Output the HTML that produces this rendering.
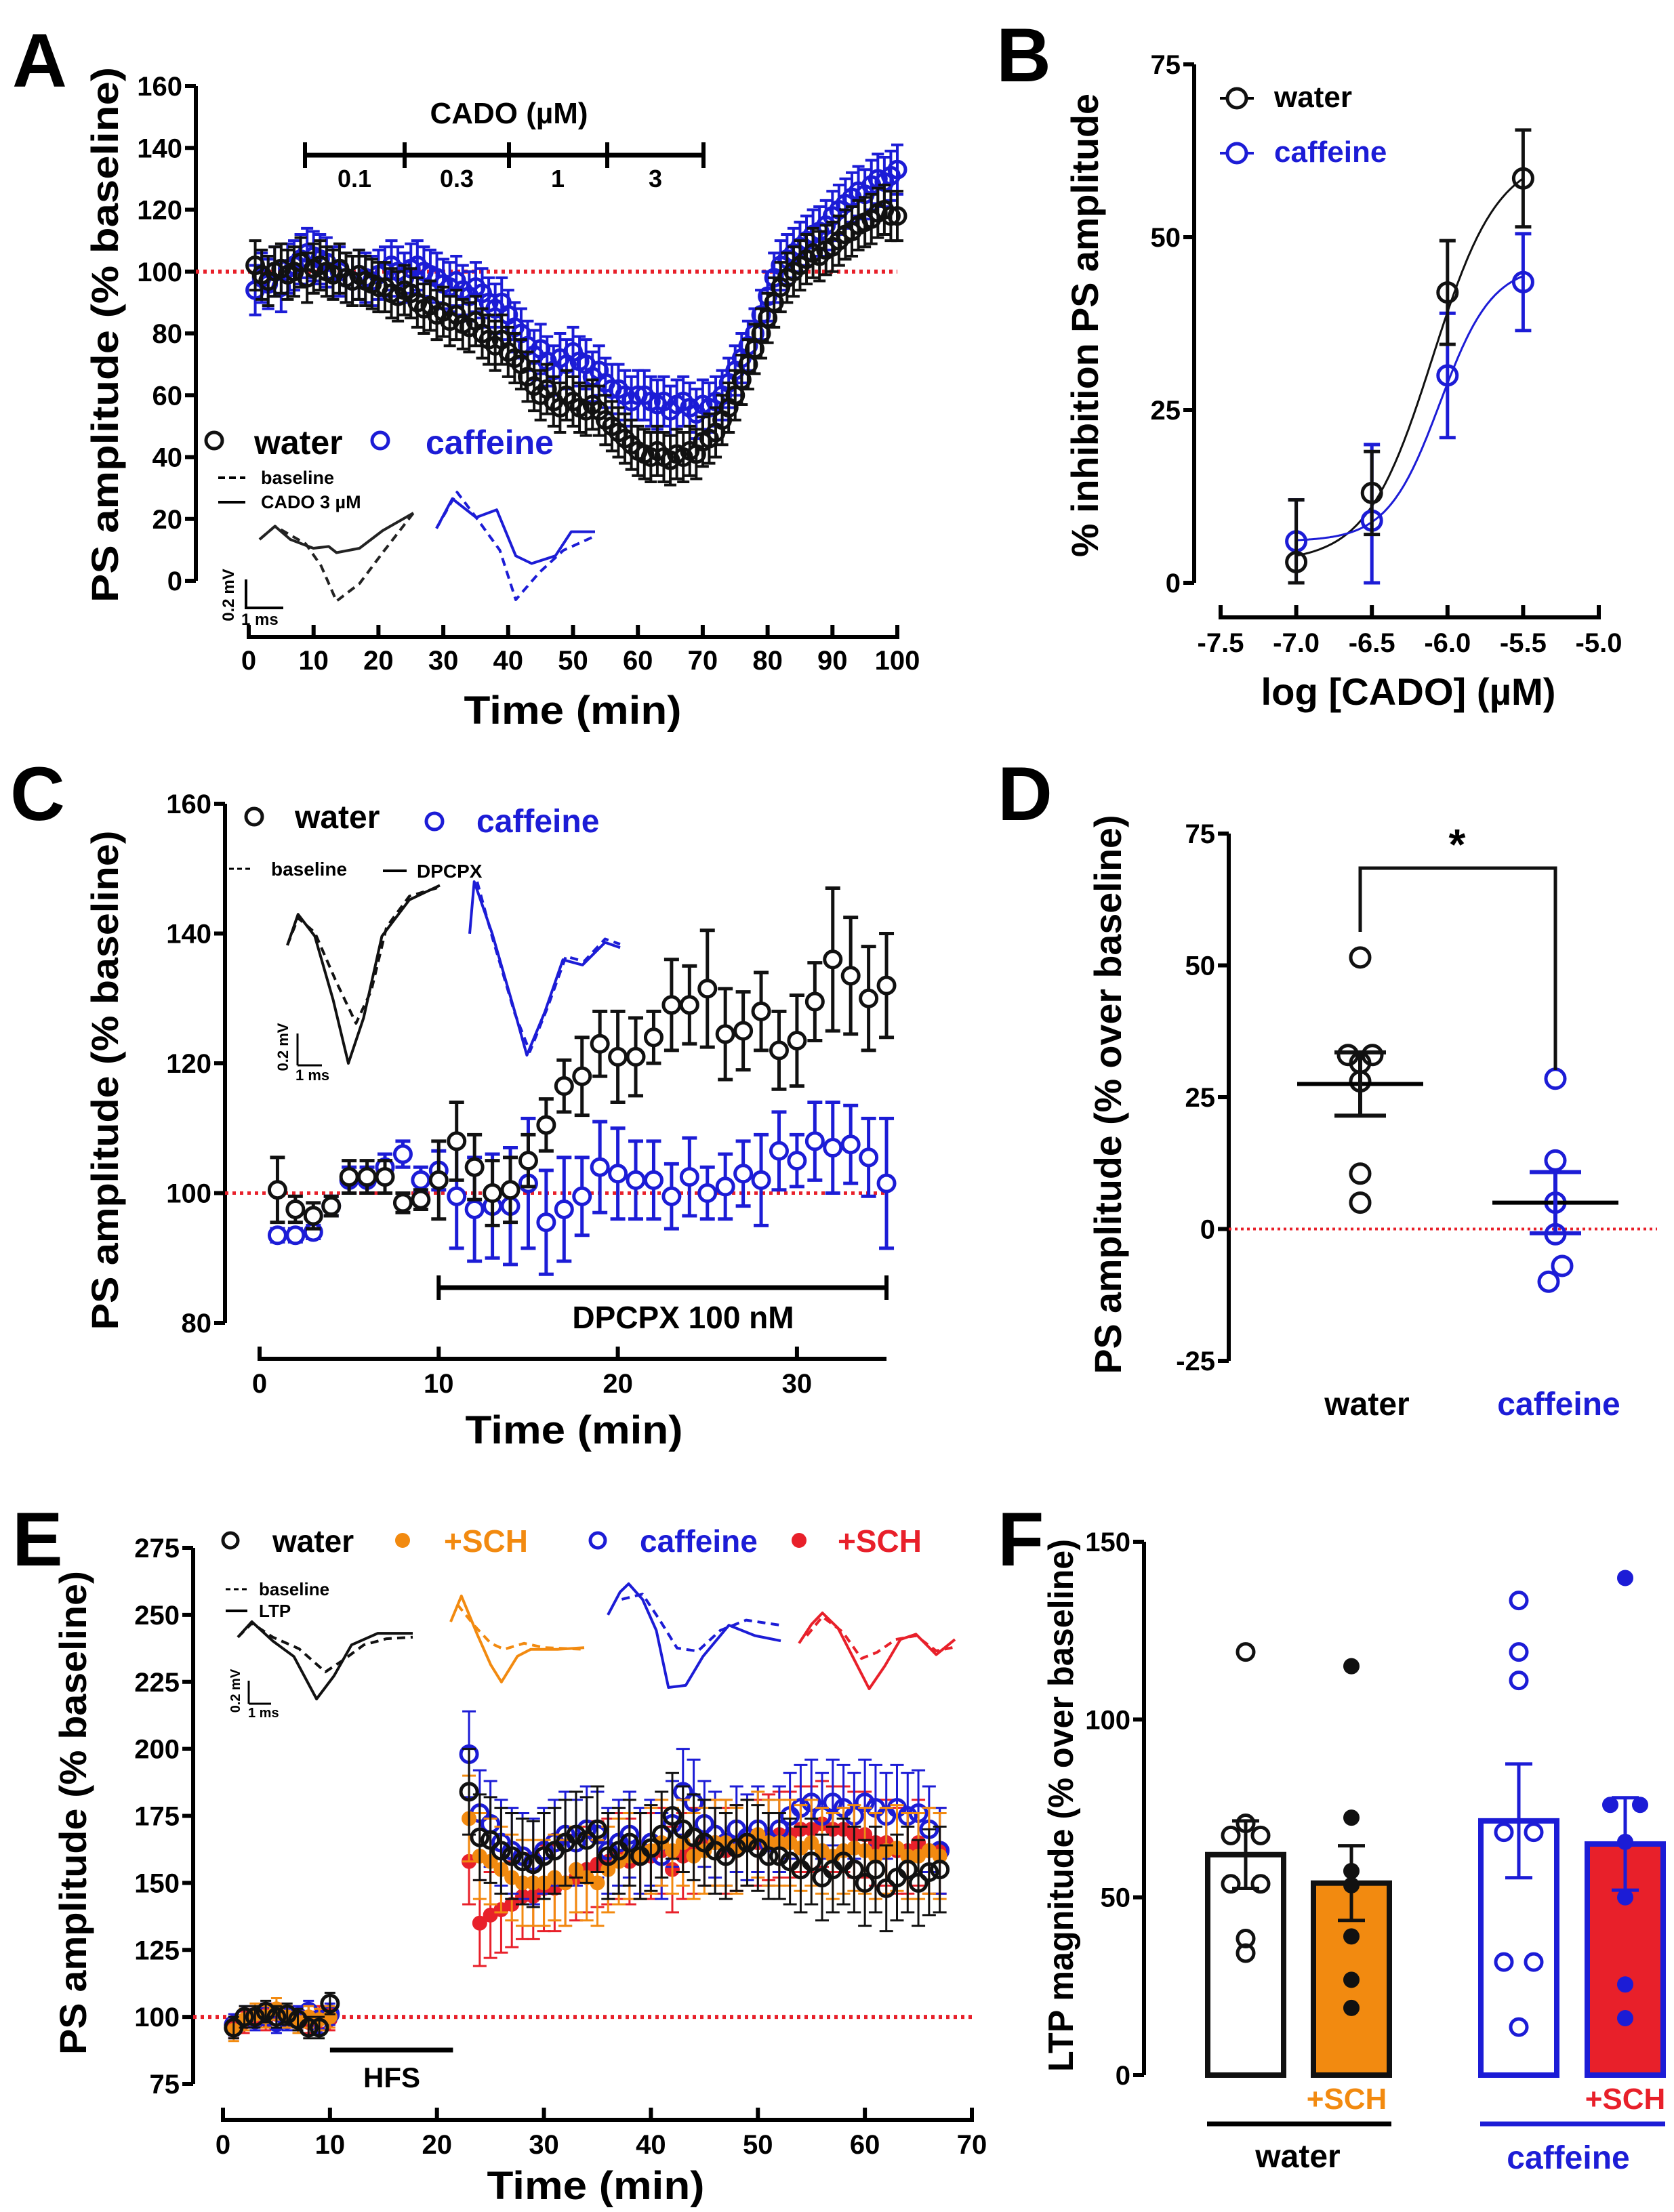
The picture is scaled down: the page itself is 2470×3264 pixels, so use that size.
<!DOCTYPE html>
<html><head><meta charset="utf-8"><style>
html,body{margin:0;padding:0;background:#fff;}
svg{display:block;font-family:"Liberation Sans",Arial,sans-serif;font-weight:bold;}
</style></head><body>
<svg id="fig" width="2470" height="3264" viewBox="0 0 2470 3264" xmlns="http://www.w3.org/2000/svg"></svg>
<script>
// ===== Panel A data =====
const aTimes = Array.from({length:100},(_, i)=>i+1);
const aWater = [102,99,97,100,101,99,100,103,98,101, 102,100,99,101,98,97,99,97,96,95, 95,93,92,94,93,90,88,89,86,87, 84,86,83,82,84,80,78,76,78,74, 72,70,66,63,60,62,58,56,60,58, 56,55,57,55,52,50,48,46,44,42, 41,40,42,40,39,41,40,42,41,45, 46,48,52,56,60,65,70,75,80,85, 90,95,98,100,102,104,106,105,107,108, 110,112,113,115,116,117,119,120,118,118];
const aCaff = [94,98,96,100,95,101,102,104,106,105, 104,103,100,100,98,97,99,98,97,99, 100,102,100,98,101,102,100,99,98,96, 95,97,94,92,95,93,90,88,90,86, 82,80,76,73,75,71,68,72,70,74, 71,70,66,68,64,62,62,60,58,60, 60,58,57,58,55,57,58,56,54,57, 56,58,60,64,68,72,76,80,86,92, 98,102,104,106,108,110,112,113,115,118, 120,122,124,126,125,128,130,129,131,133];
const aErr = 8;
const aYTicks = [0,20,40,60,80,100,120,140,160];
const aXTicks = [0,10,20,30,40,50,60,70,80,90,100];
// ===== Panel B data =====
const bLogConc = [-7.0,-6.5,-6.0,-5.5];
const bWater = [3,13,42,58.5];
const bWaterErr = [9,6,7.5,7];
const bCaff = [6,9,30,43.5];
const bCaffErr = [6,11,9,7];
const bYTicks = [0,25,50,75];
const bXTicks = [-7.5,-7.0,-6.5,-6.0,-5.5,-5.0];
// ===== Panel C data =====
const cTimes = Array.from({length:35},(_, i)=>i+1);
const cWater = [100.5,97.5,96.5,98,102.5,102.5,102.5,98.5,99,102, 108,104,100,100.5,105,110.5,116.5,118,123,121, 121,124,129,129,131.5,124.5,125,128,122,123.5, 129.5,136,133.5,130,132];
const cWaterErr = [5,2,2,1.5,2.5,2.5,2.5,1.5,1.5,6, 6,5,5,5,4,4,4,6,5,7, 6,4,7,6,9,7,6,6,6,7, 6,11,9,8,8];
const cCaff = [93.5,93.5,94,98,102,102,104,106,102,103.5, 99.5,97.5,98,98,101.5,95.5,97.5,99.5,104,103, 102,102,99.5,102.5,100,101,103,102,106.5,105, 108,107,107.5,105.5,101.5];
const cCaffErr = [1,1,1,1.5,2,2,2,2,2,3, 8,8,8,9,10,8,8,6,7,7, 6,6,5,6,4,5,5,7,6,4, 6,7,6,6,10];
const cYTicks = [80,100,120,140,160];
const cXTicks = [0,10,20,30];
// ===== Panel D data =====
const dWater = [51.5,33,33,31.5,28,10.5,5];
const dWaterMean = 27.5, dWaterSem = 6;
const dCaff = [28.5,13,5,-1,-7,-10];
const dCaffMean = 5, dCaffSem = 5.8;
const dYTicks = [-25,0,25,50,75];
// ===== Panel E data =====
const eBaseTimes = [1,2,3,4,5,6,7,8,9,10];
const eBaseWater = [96,100,100,102,100,101,99,96,96,105];
const eBaseSch = [95,99,101,100,103,100,98,100,99,100];
const eBaseCaff = [97,100,99,101,98,99,100,102,98,101];
const eBaseSchC = [96,98,100,99,101,100,99,98,100,99];
const eTimes = Array.from({length:45},(_, i)=>i+23);
const eWater = [184,167,166,162,160,158,157,160,162,165,168,166,170,160,162,165,160,163,168,175,170,167,165,162,160,163,165,163,160,160,158,155,158,152,155,158,155,150,155,148,152,155,150,154,155];
const eCaff = [198,176,172,165,162,160,158,162,165,168,165,170,168,162,165,168,162,165,160,172,184,180,172,168,165,170,167,170,165,170,175,178,180,175,180,178,175,180,178,175,178,175,176,170,162];
const eSch = [174,160,158,155,152,150,150,150,152,150,155,152,150,155,158,160,160,162,165,162,165,160,162,165,165,162,165,168,165,165,165,163,165,162,160,162,163,162,160,162,163,160,160,162,160];
const eSchC = [158,135,138,140,142,145,145,148,148,150,152,155,157,158,160,158,160,160,162,155,160,162,165,165,162,163,165,165,167,168,168,170,170,172,170,170,168,168,165,165,162,162,165,162,162];
const eErr = 16;
const eYTicks = [75,100,125,150,175,200,225,250,275];
const eXTicks = [0,10,20,30,40,50,60,70];
// ===== Panel F data =====
const fGroups = ['water','+SCH','caffeine','+SCH'];
const fMeans = [62,54,71.5,65];
const fSems = [9.5,10.5,16,13];
const fPtsWater = [119,70.8,67.4,67.4,53.8,53.8,38.4,34.3];
const fPtsSch = [115,72.4,57.4,53.4,39,26.8,18.9];
const fPtsCaff = [133.5,119,111,68.3,68.3,31.8,31.8,13.5];
const fPtsSchC = [139.8,76,76,65.6,50,25.5,16];
const fYTicks = [0,50,100,150];

const NS='http://www.w3.org/2000/svg';
const svg=document.getElementById('fig');
function mk(tag,attrs,name,parent){
  const el=document.createElementNS(NS,tag);
  for(const k in attrs) el.setAttribute(k,attrs[k]);
  
  
  (parent||svg).appendChild(el);
  return el;
}
function txt(x,y,s,name,o){
  o=o||{};
  const a={x:x,y:y,'font-size':o.size||40,fill:o.fill||'#000','text-anchor':o.anchor||'middle'};
  if(o.len){a.textLength=o.len;a.lengthAdjust='spacingAndGlyphs';}
  if(o.rot){a.transform='rotate(-90 '+x+' '+y+')';}
  if(o.weight)a['font-weight']=o.weight;
  const t=mk('text',a,name,o.parent);
  t.textContent=s;return t;
}
function lin(d0,d1,r0,r1){return v=>r0+(v-d0)*(r1-r0)/(d1-d0);}
function line(x1,y1,x2,y2,name,o){o=o||{};return mk('line',{x1:x1,y1:y1,x2:x2,y2:y2,stroke:o.stroke||'#000','stroke-width':o.w||6,'stroke-dasharray':o.dash||'none','stroke-linecap':o.cap||'butt'},name,o.parent);}
function yAxis(x,sc,ticks,y0,y1,name,fmt){
  const g=mk('g',{},name);
  line(x,sc(y0),x,sc(y1),'y-axis-line',{parent:g});
  ticks.forEach(t=>{line(x-16,sc(t),x,sc(t),'y-tick',{parent:g});
    txt(x-20,sc(t)+14,fmt?fmt(t):String(t),'y-tick-label',{anchor:'end',parent:g});});
}
function xAxis(y,sc,ticks,name,fmt,lblY){
  const g=mk('g',{},name);
  line(sc(ticks[0])-3,y,sc(ticks[ticks.length-1])+3,y,'x-axis-line',{parent:g});
  ticks.forEach(t=>{line(sc(t),y-18,sc(t),y,'x-tick',{parent:g});
    txt(sc(t),lblY,fmt?fmt(t):String(t),'x-tick-label',{parent:g});});
}
function circ(x,y,r,color,fill,name,parent,w){return mk('circle',{cx:x,cy:y,r:r,stroke:color,'stroke-width':w||5,fill:fill},name,parent);}
function errbar(x,yv,ylo,yhi,color,name,parent,w,cap){
  const g=mk('g',{},name,parent);
  line(x,ylo,x,yhi,'error-line',{parent:g,stroke:color,w:w||5});
  line(x-(cap||10),yhi,x+(cap||10),yhi,'error-cap',{parent:g,stroke:color,w:w||5});
  line(x-(cap||10),ylo,x+(cap||10),ylo,'error-cap',{parent:g,stroke:color,w:w||5});
}
function wave(pts,x0,y0,w,h,color,dash,name){
  const d=pts.map((p,i)=>(i?'L':'M')+(x0+p[0]*w).toFixed(1)+' '+(y0+p[1]*h).toFixed(1)).join(' ');
  return mk('path',{d:d,fill:'none',stroke:color,'stroke-width':4,'stroke-dasharray':dash?'12 8':'none','stroke-linejoin':'round'},name);
}
function letter(x,y,s){txt(x,y,s,'panel-label-'+s.toLowerCase(),{size:112,anchor:'start'});}

// ================= Panel A =================
(function(){
  const X=lin(0,100,367,1324), Y=lin(0,160,857,127);
  letter(18,128,'A');
  txt(174,494,'PS amplitude (% baseline)','a-y-axis-title',{size:56,rot:true,len:790});
  yAxis(289,Y,aYTicks,0,160,'a-y-axis');
  xAxis(940,X,aXTicks,'a-x-axis',null,988);
  txt(845,1068,'Time (min)','a-x-axis-title',{size:58,len:321});
  line(289,Y(100),1324,Y(100),'a-baseline-100',{stroke:'#e8202a',w:6,dash:'5 6'});
  line(450,229,1038,229,'a-cado-bar',{w:7});
  [450,597,751,896,1038].forEach(x=>line(x,210,x,248,'a-cado-tick',{w:6}));
  txt(751,182,'CADO (\u00B5M)','a-cado-title',{size:44});
  [['0.1',523],['0.3',674],['1',823],['3',967]].forEach(a=>txt(a[1],276,a[0],'a-cado-conc',{size:36}));
  const gC=mk('g',{},'a-caffeine-series'), gW=mk('g',{},'a-water-series');
  aTimes.forEach((t,i)=>{errbar(X(t),0,Y(aCaff[i]-aErr),Y(aCaff[i]+aErr),'#1c1cd6','a-caffeine-error',gC,4,9);});
  aTimes.forEach((t,i)=>{circ(X(t),Y(aCaff[i]),12,'#1c1cd6','none','a-caffeine-point',gC);});
  aTimes.forEach((t,i)=>{errbar(X(t),0,Y(aWater[i]-aErr),Y(aWater[i]+aErr),'#111','a-water-error',gW,4,9);});
  aTimes.forEach((t,i)=>{circ(X(t),Y(aWater[i]),12,'#111','none','a-water-point',gW);});
  circ(316,650,12,'#111','none','a-legend-water-marker');
  txt(375,670,'water','a-legend-water',{size:50,anchor:'start'});
  circ(561,650,12,'#1c1cd6','none','a-legend-caffeine-marker');
  txt(628,670,'caffeine','a-legend-caffeine',{size:50,anchor:'start',fill:'#1c1cd6'});
  line(322,705,362,705,'a-trace-legend-dash',{w:4,dash:'10 6'});
  txt(385,714,'baseline','a-trace-legend-baseline',{size:27,anchor:'start'});
  line(322,741,362,741,'a-trace-legend-solid',{w:4});
  txt(385,750,'CADO 3 \u00B5M','a-trace-legend-cado',{size:27,anchor:'start'});
  wave([[0,.3],[.1,.15],[.2,.3],[.35,.4],[.45,.38],[.5,.45],[.65,.4],[.8,.2],[1,0]],383,757,227,130,'#222',false,'a-trace-water-cado');
  wave([[0,.3],[.1,.15],[.3,.35],[.4,.6],[.5,1],[.65,.8],[.8,.45],[1,0]],383,757,227,130,'#222',true,'a-trace-water-baseline');
  wave([[0,.35],[.1,.08],[.25,.25],[.38,.18],[.5,.6],[.6,.67],[.75,.6],[.85,.38],[1,.38]],644,723,234,162,'#1c1cd6',false,'a-trace-caffeine-cado');
  wave([[0,.35],[.13,.02],[.25,.25],[.4,.55],[.5,1],[.65,.75],[.8,.55],[1,.42]],644,723,234,162,'#1c1cd6',true,'a-trace-caffeine-baseline');
  line(363,855,363,899,'a-scale-vertical',{w:4});line(363,897,418,897,'a-scale-horizontal',{w:4});
  txt(345,878,'0.2 mV','a-scale-mv',{size:24,rot:true});
  txt(356,922,'1 ms','a-scale-ms',{size:24,anchor:'start'});
})();

// ================= Panel B =================
(function(){
  const X=lin(-7.5,-5.0,1801,2359), Y=lin(0,75,860,95);
  letter(1470,120,'B');
  txt(1620,480,'% inhibition PS amplitude','b-y-axis-title',{size:56,rot:true,len:684});
  yAxis(1762,Y,bYTicks,0,75,'b-y-axis');
  xAxis(911,X,bXTicks,'b-x-axis',v=>v.toFixed(1),962);
  txt(2078,1040,'log [CADO] (\u00B5M)','b-x-axis-title',{size:56,len:435});
  function hill(x,b,t,ec,h){return b+(t-b)/(1+Math.pow(10,(ec-x)*h));}
  function curve(b,t,ec,h,color,name){let d='';for(let x=-7.0;x<=-5.499;x+=0.01){d+=(d?'L':'M')+X(x).toFixed(1)+' '+Y(hill(x,b,t,ec,h)).toFixed(1);}
    mk('path',{d:d,fill:'none',stroke:color,'stroke-width':3},name);}
  curve(3,62,-6.1,2,'#111','b-water-fit');
  curve(6,46,-6.05,2.5,'#1c1cd6','b-caffeine-fit');
  const gC=mk('g',{},'b-caffeine-series'), gW=mk('g',{},'b-water-series');
  bLogConc.forEach((c,i)=>{errbar(X(c),0,Y(Math.max(0,bCaff[i]-bCaffErr[i])),Y(bCaff[i]+bCaffErr[i]),'#1c1cd6','b-caffeine-error',gC,5,12);
    circ(X(c),Y(bCaff[i]),14,'#1c1cd6','none','b-caffeine-point',gC);});
  bLogConc.forEach((c,i)=>{errbar(X(c),0,Y(Math.max(0,bWater[i]-bWaterErr[i])),Y(bWater[i]+bWaterErr[i]),'#111','b-water-error',gW,5,12);
    circ(X(c),Y(bWater[i]),14,'#111','none','b-water-point',gW);});
  line(1800,145,1850,145,'b-legend-water-line',{w:4});circ(1825,145,14,'#111','#fff','b-legend-water-marker');
  txt(1880,158,'water','b-legend-water',{size:44,anchor:'start'});
  line(1800,226,1850,226,'b-legend-caffeine-line',{w:4,stroke:'#1c1cd6'});circ(1825,226,14,'#1c1cd6','#fff','b-legend-caffeine-marker');
  txt(1880,239,'caffeine','b-legend-caffeine',{size:44,anchor:'start',fill:'#1c1cd6'});
})();

// ================= Panel C =================
(function(){
  const X=lin(0,10,383,647.3), Y=lin(80,160,1952,1186);
  letter(15,1210,'C');
  txt(174,1594,'PS amplitude (% baseline)','c-y-axis-title',{size:56,rot:true,len:737});
  yAxis(332,Y,cYTicks,80,160,'c-y-axis');
  xAxis(2005,X,cXTicks,'c-x-axis',null,2055);
  line(X(30),2005,X(35),2005,'c-x-axis-extension');
  txt(847,2130,'Time (min)','c-x-axis-title',{size:58,len:321});
  line(332,Y(100),1310,Y(100),'c-baseline-100',{stroke:'#e8202a',w:5,dash:'5 6'});
  line(X(10),1900,X(35),1900,'c-dpcpx-bar',{w:7});
  line(X(10),1882,X(10),1918,'c-dpcpx-tick');line(X(35),1882,X(35),1918,'c-dpcpx-tick');
  txt(1008,1960,'DPCPX 100 nM','c-dpcpx-label',{size:46});
  const gC=mk('g',{},'c-caffeine-series'), gW=mk('g',{},'c-water-series');
  cTimes.forEach((t,i)=>{errbar(X(t),0,Y(cCaff[i]-cCaffErr[i]),Y(cCaff[i]+cCaffErr[i]),'#1c1cd6','c-caffeine-error',gC,5,11);
    circ(X(t),Y(cCaff[i]),12,'#1c1cd6','#fff','c-caffeine-point',gC);});
  cTimes.forEach((t,i)=>{errbar(X(t),0,Y(cWater[i]-cWaterErr[i]),Y(cWater[i]+cWaterErr[i]),'#111','c-water-error',gW,5,11);
    circ(X(t),Y(cWater[i]),12,'#111','#fff','c-water-point',gW);});
  circ(375,1205,12,'#111','none','c-legend-water-marker');
  txt(435,1222,'water','c-legend-water',{size:48,anchor:'start'});
  circ(641,1212,12,'#1c1cd6','none','c-legend-caffeine-marker');
  txt(703,1228,'caffeine','c-legend-caffeine',{size:48,anchor:'start',fill:'#1c1cd6'});
  line(338,1282,372,1282,'c-trace-legend-dash',{w:3,dash:'7 5'});
  txt(400,1292,'baseline','c-trace-legend-baseline',{size:28,anchor:'start'});
  line(565,1285,600,1285,'c-trace-legend-solid',{w:4});
  txt(615,1295,'DPCPX','c-trace-legend-dpcpx',{size:28,anchor:'start'});
  wave([[0,.35],[.07,.18],[.18,.3],[.3,.65],[.4,1],[.5,.75],[.62,.3],[.8,.1],[1,.02]],424,1301,225,268,'#111',false,'c-trace-water-dpcpx');
  wave([[0,.35],[.07,.2],[.18,.28],[.32,.55],[.45,.78],[.55,.6],[.65,.25],[.8,.08],[1,.03]],424,1301,225,268,'#111',true,'c-trace-water-baseline');
  wave([[0,.3],[.03,0],[.15,.3],[.3,.75],[.38,1],[.5,.75],[.62,.45],[.75,.48],[.9,.35],[1,.38]],693,1301,222,256,'#1c1cd6',false,'c-trace-caffeine-dpcpx');
  wave([[.05,0],[.15,.32],[.3,.76],[.4,.98],[.52,.72],[.64,.43],[.76,.46],[.9,.33],[1,.36]],693,1301,222,256,'#1c1cd6',true,'c-trace-caffeine-baseline');
  line(439,1525,439,1572,'c-scale-vertical',{w:3});line(439,1572,475,1572,'c-scale-horizontal',{w:3});
  txt(425,1545,'0.2 mV','c-scale-mv',{size:22,rot:true});
  txt(436,1594,'1 ms','c-scale-ms',{size:22,anchor:'start'});
})();

// ================= Panel D =================
(function(){
  const Y=lin(-25,75,2008,1230); const xW=2007, xC=2295;
  letter(1472,1210,'D');
  txt(1654,1615,'PS amplitude (% over baseline)','d-y-axis-title',{size:56,rot:true,len:825});
  yAxis(1813,Y,dYTicks,-25,75,'d-y-axis');
  line(1813,Y(0),2445,Y(0),'d-zero-line',{stroke:'#e8202a',w:4,dash:'4 5'});
  const jit=[0,-18,18,0,0,0,0];
  const gW=mk('g',{},'d-water-group');
  dWater.forEach((v,i)=>circ(xW+jit[i],Y(v),14,'#111','none','d-water-point',gW));
  line(xW-93,Y(dWaterMean),xW+93,Y(dWaterMean),'d-water-mean',{w:6,parent:gW});
  errbar(xW,0,Y(dWaterMean-dWaterSem),Y(dWaterMean+dWaterSem),'#111','d-water-sem',gW,6,38);
  const jc=[0,0,0,0,10,-10];
  const gC=mk('g',{},'d-caffeine-group');
  dCaff.forEach((v,i)=>circ(xC+jc[i],Y(v),14,'#1c1cd6','none','d-caffeine-point',gC));
  line(xC-93,Y(dCaffMean),xC+93,Y(dCaffMean),'d-caffeine-mean',{w:6,parent:gC});
  errbar(xC,0,Y(dCaffMean-dCaffSem),Y(dCaffMean+dCaffSem),'#1c1cd6','d-caffeine-sem',gC,6,38);
  mk('path',{d:'M'+xW+' 1375 L'+xW+' 1281 L'+xC+' 1281 L'+xC+' 1579',fill:'none',stroke:'#111','stroke-width':5},'d-significance-bracket');
  txt(2150,1268,'*','d-significance-star',{size:64});
  txt(xW+10,2088,'water','d-x-label-water',{size:48});
  txt(xC+5,2088,'caffeine','d-x-label-caffeine',{size:48,fill:'#1c1cd6'});
})();

// ================= Panel E =================
(function(){
  const X=lin(0,70,329,1434), Y=lin(75,275,3075,2284);
  letter(18,2310,'E');
  txt(127,2675,'PS amplitude (% baseline)','e-y-axis-title',{size:56,rot:true,len:714});
  yAxis(285,Y,eYTicks,75,275,'e-y-axis');
  xAxis(3128,X,eXTicks,'e-x-axis',null,3178);
  txt(879,3245,'Time (min)','e-x-axis-title',{size:58,len:321});
  line(285,Y(100),1434,Y(100),'e-baseline-100',{stroke:'#e8202a',w:6,dash:'5 6'});
  line(X(10),3025,X(21.5),3025,'e-hfs-bar',{w:7});
  txt(578,3080,'HFS','e-hfs-label',{size:42});
  const series=[[eSchC,eBaseSchC,'#e8202a',true,'e-caffeine-sch'],[eCaff,eBaseCaff,'#1c1cd6',false,'e-caffeine'],[eSch,eBaseSch,'#f28a10',true,'e-water-sch'],[eWater,eBaseWater,'#111',false,'e-water']];
  series.forEach(s=>{
    const g=mk('g',{},s[4]+'-series');
    eBaseTimes.forEach((t,i)=>errbar(X(t),0,Y(s[1][i]-4),Y(s[1][i]+4),s[2],s[4]+'-error',g,3,8));
    eTimes.forEach((t,i)=>errbar(X(t),0,Y(s[0][i]-eErr),Y(s[0][i]+eErr),s[2],s[4]+'-error',g,3,10));
    eBaseTimes.forEach((t,i)=>s[3]?circ(X(t),Y(s[1][i]),10,s[2],s[2],s[4]+'-point',g,2):circ(X(t),Y(s[1][i]),12,s[2],'none',s[4]+'-point',g,5));
    eTimes.forEach((t,i)=>s[3]?circ(X(t),Y(s[0][i]),10,s[2],s[2],s[4]+'-point',g,2):circ(X(t),Y(s[0][i]),12,s[2],'none',s[4]+'-point',g,5));
  });
  circ(340,2273,11,'#111','none','e-legend-water-marker');
  txt(402,2290,'water','e-legend-water',{size:46,anchor:'start'});
  circ(594,2273,10,'#f28a10','#f28a10','e-legend-sch-marker',null,2);
  txt(655,2290,'+SCH','e-legend-sch',{size:46,anchor:'start',fill:'#f28a10'});
  circ(882,2273,11,'#1c1cd6','none','e-legend-caffeine-marker');
  txt(944,2290,'caffeine','e-legend-caffeine',{size:46,anchor:'start',fill:'#1c1cd6'});
  circ(1179,2273,10,'#e8202a','#e8202a','e-legend-caffeine-sch-marker',null,2);
  txt(1236,2290,'+SCH','e-legend-caffeine-sch',{size:46,anchor:'start',fill:'#e8202a'});
  line(333,2345,365,2345,'e-trace-legend-dash',{w:3,dash:'7 5'});
  txt(382,2354,'baseline','e-trace-legend-baseline',{size:26,anchor:'start'});
  line(333,2377,365,2377,'e-trace-legend-solid',{w:4});
  txt(382,2386,'LTP','e-trace-legend-ltp',{size:26,anchor:'start'});
  wave([[0,.2],[.08,0],[.2,.25],[.32,.45],[.45,1],[.55,.7],[.65,.3],[.8,.15],[1,.15]],351,2393,258,114,'#111',false,'e-trace-water-ltp');
  wave([[0,.2],[.08,.02],[.2,.2],[.35,.35],[.5,.65],[.6,.5],[.72,.3],[.85,.22],[1,.2]],351,2393,258,114,'#111',true,'e-trace-water-baseline');
  wave([[0,.3],[.08,0],[.2,.45],[.3,.8],[.38,1],[.5,.7],[.6,.62],[.8,.62],[1,.6]],665,2355,197,127,'#f28a10',false,'e-trace-sch-ltp');
  wave([[.05,.1],[.18,.35],[.3,.55],[.4,.62],[.55,.55],[.7,.6],[1,.62]],665,2355,197,127,'#f28a10',true,'e-trace-sch-baseline');
  wave([[0,.3],[.07,.08],[.12,0],[.2,.15],[.28,.45],[.35,1],[.45,.98],[.55,.7],[.7,.4],[.85,.5],[1,.55]],897,2337,255,153,'#1c1cd6',false,'e-trace-caffeine-ltp');
  wave([[.08,.15],[.2,.1],[.3,.35],[.4,.62],[.52,.65],[.65,.45],[.8,.35],[1,.4]],897,2337,255,153,'#1c1cd6',true,'e-trace-caffeine-baseline');
  wave([[0,.4],[.08,.15],[.15,0],[.25,.2],[.35,.6],[.45,1],[.55,.7],[.65,.35],[.75,.28],[.88,.55],[1,.35]],1179,2380,230,112,'#e8202a',false,'e-trace-caffeine-sch-ltp');
  wave([[.05,.3],[.15,.05],[.28,.25],[.4,.6],[.5,.52],[.62,.35],[.75,.3],[.88,.5],[1,.45]],1179,2380,230,112,'#e8202a',true,'e-trace-caffeine-sch-baseline');
  line(367,2480,367,2514,'e-scale-vertical',{w:3});line(367,2514,400,2514,'e-scale-horizontal',{w:3});
  txt(354,2495,'0.2 mV','e-scale-mv',{size:20,rot:true});
  txt(366,2534,'1 ms','e-scale-ms',{size:20,anchor:'start'});
})();

// ================= Panel F =================
(function(){
  const Y=lin(0,150,3062,2275);
  letter(1472,2310,'F');
  txt(1583,2664,'LTP magnitude (% over baseline)','f-y-axis-title',{size:52,rot:true,len:786});
  yAxis(1688,Y,fYTicks,0,150,'f-y-axis');
  const cx=[1838,1994,2241,2398];
  const stroke=['#111','#111','#1c1cd6','#1c1cd6'], fill=['#fff','#f28a10','#fff','#e8202a'];
  const pts=[fPtsWater,fPtsSch,fPtsCaff,fPtsSchC];
  const ptColor=['#111','#111','#1c1cd6','#1c1cd6'], ptFill=['none','#111','none','#1c1cd6'];
  fMeans.forEach((m,i)=>{
    const g=mk('g',{},'f-bar-group-'+i);
    mk('rect',{x:cx[i]-56,y:Y(m),width:112,height:Y(0)-Y(m),fill:fill[i],stroke:stroke[i],'stroke-width':8},'f-bar',g);
    errbar(cx[i],0,Y(m-fSems[i]),Y(m+fSems[i]),stroke[i],'f-bar-sem',g,5,20);
    const seen={};
    pts[i].forEach(v=>{const k=v.toFixed(1);seen[k]=(seen[k]||0)+1;const off=seen[k]>1?22:(pts[i].filter(w=>w.toFixed(1)===k).length>1?-22:0);
      circ(cx[i]+off,Y(v),ptFill[i]==='none'?12:11,ptColor[i],ptFill[i],'f-point',g,ptFill[i]==='none'?5:2);});
  });
  txt(1987,3112,'+SCH','f-label-water-sch',{size:44,fill:'#f28a10'});
  txt(2398,3112,'+SCH','f-label-caffeine-sch',{size:44,fill:'#e8202a'});
  line(1781,3134,2053,3134,'f-group-line-water',{w:7});
  line(2184,3134,2457,3134,'f-group-line-caffeine',{w:7,stroke:'#1c1cd6'});
  txt(1915,3198,'water','f-group-label-water',{size:48});
  txt(2314,3200,'caffeine','f-group-label-caffeine',{size:48,fill:'#1c1cd6'});
})();
</script>
</body></html>
